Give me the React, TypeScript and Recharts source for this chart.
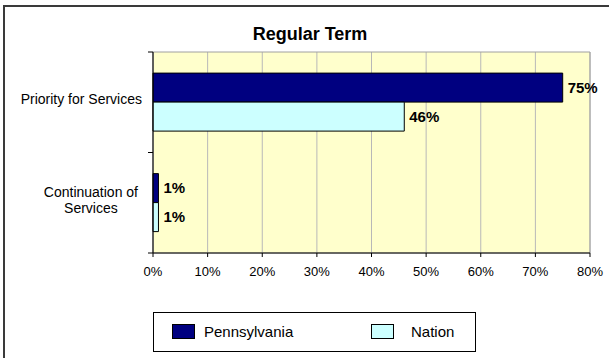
import React from 'react';
import { BarChart, Bar, XAxis, YAxis, CartesianGrid, Legend, LabelList, ReferenceArea } from 'recharts';

const categories = ['Priority for Services', 'Continuation of Services'];
const pennsylvania = [75, 1];
const nation = [46, 1];
const xTicks = [0, 10, 20, 30, 40, 50, 60, 70, 80];
const seriesOrder = ['Pennsylvania', 'Nation'];

const FONT = '"Liberation Sans", Arial, sans-serif';

const data = categories.map((name, i) => ({
  name,
  pennsylvania: pennsylvania[i],
  nation: nation[i],
}));

// split long category names into two lines like the original
const splitLabel = (s: string) => {
  if (s.length <= 21) return [s];
  const idx = s.lastIndexOf(' ');
  return [s.slice(0, idx), s.slice(idx + 1)];
};

let measureCtx: CanvasRenderingContext2D | null = null;
const textWidth = (s: string, font: string) => {
  if (!measureCtx) measureCtx = document.createElement('canvas').getContext('2d');
  if (!measureCtx) return s.length * 7;
  measureCtx.font = font;
  return measureCtx.measureText(s).width;
};

const CategoryTick = (props: any) => {
  const { x, y, payload, index } = props;
  const lines = splitLabel(payload.value);
  const half = payload.offset || 57.5;
  const axisX = x + 11;
  const font = '14px "Liberation Sans"';
  const maxW = Math.max(...lines.map((l) => textWidth(l, font)));
  const cx = x - (lines.length > 1 ? 4 : 0) - maxW / 2;
  const lh = 16;
  const startY = y - 3 - ((lines.length - 1) * lh) / 2;
  return (
    <g>
      {lines.map((l, i) => (
        <text key={i} x={cx} y={startY + i * lh} dy="0.35em" textAnchor="middle" fontSize={14} fontFamily={FONT} fill="#000">
          {l}
        </text>
      ))}
      <line x1={axisX - 5} x2={axisX} y1={y + half} y2={y + half} stroke="#000" />
      {index === 0 && <line x1={axisX - 5} x2={axisX} y1={y - half} y2={y - half} stroke="#000" />}
    </g>
  );
};

const LegendBox = (props: any) => {
  const items = [...(props.payload || [])].sort(
    (a: any, b: any) => seriesOrder.indexOf(a.value) - seriesOrder.indexOf(b.value)
  );
  return (
    <div style={{ position: 'relative', width: 323, height: 40, border: '1px solid #000', boxSizing: 'border-box', background: '#fff', fontFamily: FONT, fontSize: 15 }}>
      {items.map((p: any, i: number) => (
        <div key={p.value} style={{ position: 'absolute', left: 18 + i * 199, top: 10, display: 'flex', alignItems: 'center' }}>
          <span style={{ display: 'inline-block', width: 21, height: 13, background: p.color, border: '1px solid #000', marginRight: 9 }} />
          <span style={{ color: '#000', marginLeft: i === 1 ? 8 : 0 }}>{p.value}</span>
        </div>
      ))}
    </div>
  );
};

export default function App() {
  return (
    <div style={{ position: 'fixed', left: 0, top: 0, width: 609, height: 358, background: '#fff', overflow: 'hidden' }}>
      <div style={{ position: 'absolute', left: 3, top: 5, width: 700, height: 400, borderTop: '2px solid #3a3a3a', borderLeft: '2px solid #3a3a3a' }} />
      <div style={{ position: 'absolute', left: 0, top: 25, width: 620, textAlign: 'center', fontFamily: FONT, fontWeight: 'bold', fontSize: 18, lineHeight: '18px' }}>
        Regular Term
      </div>
      <BarChart
        width={609}
        height={358}
        data={data}
        layout="vertical"
        margin={{ top: 52, right: 19, bottom: 75, left: 0 }}
        barCategoryGap="21%"
        barGap={0}
      >
        <CartesianGrid fill="#FFFFCC" stroke="#B8B8B8" horizontal={false} />
        <ReferenceArea x1={0} x2={80} fill="none" stroke="#A0A0A0" strokeWidth={1} ifOverflow="visible" />
        <XAxis
          type="number"
          domain={[0, 80]}
          ticks={xTicks}
          tickFormatter={(v) => `${v}%`}
          tickSize={4}
          tickMargin={10}
          stroke="#000"
          tick={{ fill: '#000', fontSize: 13, fontFamily: FONT }}
        />
        <YAxis
          type="category"
          dataKey="name"
          width={153}
          tickLine={false}
          tickSize={0}
          tickMargin={11}
          stroke="#000"
          tick={<CategoryTick />}
        />
        <Legend
          layout="horizontal"
          verticalAlign="middle"
          align="center"
          wrapperStyle={{ top: 312, left: 153, width: 323, height: 40 }}
          content={<LegendBox />}
        />
        <Bar dataKey="pennsylvania" name="Pennsylvania" fill="#000080" stroke="#000" strokeWidth={1} isAnimationActive={false}>
          <LabelList dataKey="pennsylvania" position="right" offset={5} formatter={(v: any) => `${v}%`} fill="#000" fontSize={15} fontWeight="bold" fontFamily={FONT} />
        </Bar>
        <Bar dataKey="nation" name="Nation" fill="#CCFFFF" stroke="#000" strokeWidth={1} isAnimationActive={false}>
          <LabelList dataKey="nation" position="right" offset={5} formatter={(v: any) => `${v}%`} fill="#000" fontSize={15} fontWeight="bold" fontFamily={FONT} />
        </Bar>
      </BarChart>
    </div>
  );
}
